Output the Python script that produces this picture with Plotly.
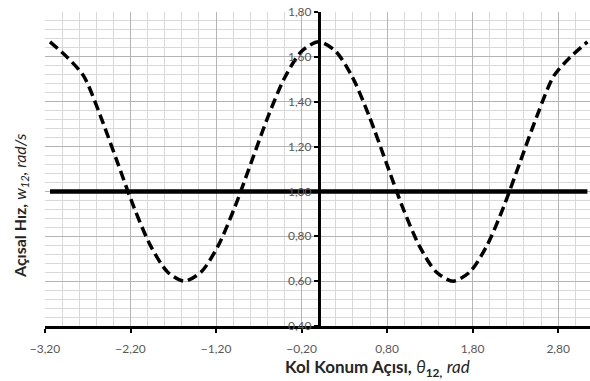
import plotly.graph_objects as go

# crank angle (rad) and angular velocity (rad/s)
theta = [-3.1416, -2.9452, -2.7489, -2.5525, -2.3562, -2.1598, -1.9635, -1.7671,
         -1.5708, -1.3744, -1.1781, -0.9817, -0.7854, -0.5890, -0.3927, -0.1963,
         0.0, 0.1963, 0.3927, 0.5890, 0.7854, 0.9817, 1.1781, 1.3744,
         1.5708, 1.7671, 1.9635, 2.1598, 2.3562, 2.5525, 2.7489, 2.9452, 3.1416]
w12 = [1.667, 1.600, 1.515, 1.337, 1.133, 0.929, 0.756, 0.641,
       0.600, 0.641, 0.756, 0.929, 1.133, 1.337, 1.511, 1.626,
       1.667, 1.626, 1.511, 1.337, 1.133, 0.929, 0.756, 0.641,
       0.600, 0.641, 0.756, 0.929, 1.133, 1.337, 1.515, 1.600, 1.667]

ref_x = [-3.1416, 3.1416]
ref_y = [1.0, 1.0]

x_range = [-3.2, 3.172]
y_range = [0.4, 1.8001]

fig = go.Figure()
fig.add_trace(go.Scatter(x=ref_x, y=ref_y, mode="lines",
                         line=dict(color="black", width=4.5), hoverinfo="skip"))
fig.add_trace(go.Scatter(x=theta, y=w12, mode="lines",
                         line=dict(color="black", width=3.5, dash="10px,5px",
                                   shape="spline", smoothing=0.8)))

font_main = "Lato, 'Open Sans', 'Liberation Sans', sans-serif"
ypos = (0 - x_range[0]) / (x_range[1] - x_range[0])

L, R, T, B = 45, 0, 12, 55
W, H = 590, 381
pw, ph = W - L - R, H - T - B

fig.update_layout(
    width=W, height=H,
    margin=dict(l=L, r=R, t=T, b=B, autoexpand=False),
    paper_bgcolor="white", plot_bgcolor="white",
    showlegend=False,
    separators=",.",
    font=dict(family=font_main, size=12, color="#595959"),
    xaxis=dict(range=x_range, tick0=-3.2, dtick=1.0, tickformat=".2f",
               automargin=False,
               showgrid=True, gridcolor="#b4b4b4", gridwidth=1,
               minor=dict(dtick=0.2, tick0=-3.2, showgrid=True,
                          gridcolor="#d9d9d9", gridwidth=1),
               zeroline=False, showline=True, linecolor="black", linewidth=3,
               ticks="outside", ticklen=4, tickwidth=2, tickcolor="black",
               tickfont=dict(size=12, color="#595959"), ticklabelstandoff=6),
    yaxis=dict(range=y_range, tick0=0.4, dtick=0.2, tickformat=".2f",
               automargin=False,
               showgrid=True, gridcolor="#b4b4b4", gridwidth=1,
               minor=dict(dtick=0.04, tick0=0.4, showgrid=True,
                          gridcolor="#d9d9d9", gridwidth=1),
               zeroline=False, showline=True, linecolor="black", linewidth=2.5,
               anchor="free", position=ypos,
               ticks="outside", ticklen=4, tickwidth=2, tickcolor="black",
               tickfont=dict(size=12, color="#595959")),
)

fig.add_annotation(xref="paper", yref="paper", x=(377 - L) / pw, y=-(368 - (H - B)) / ph,
                   xanchor="center", yanchor="middle", showarrow=False,
                   text="<b>Kol Konum Açısı,</b> <i>θ</i><sub><b>12,</b></sub> <i>rad</i>",
                   font=dict(family=font_main, size=17, color="#262626"))
fig.add_annotation(xref="paper", yref="paper", x=-(L - 20) / pw, y=((H - B) - 206) / ph,
                   xanchor="center", yanchor="middle", showarrow=False, textangle=-90,
                   text="<b>Açısal Hız,</b> <i>w</i><sub><i>12</i></sub><i>, rad/s</i>",
                   font=dict(family=font_main, size=16, color="#262626"))

fig.write_html("out.html",
               config={"displayModeBar": False},
               post_script="document.body.style.margin='0';document.body.style.overflow='hidden';")
